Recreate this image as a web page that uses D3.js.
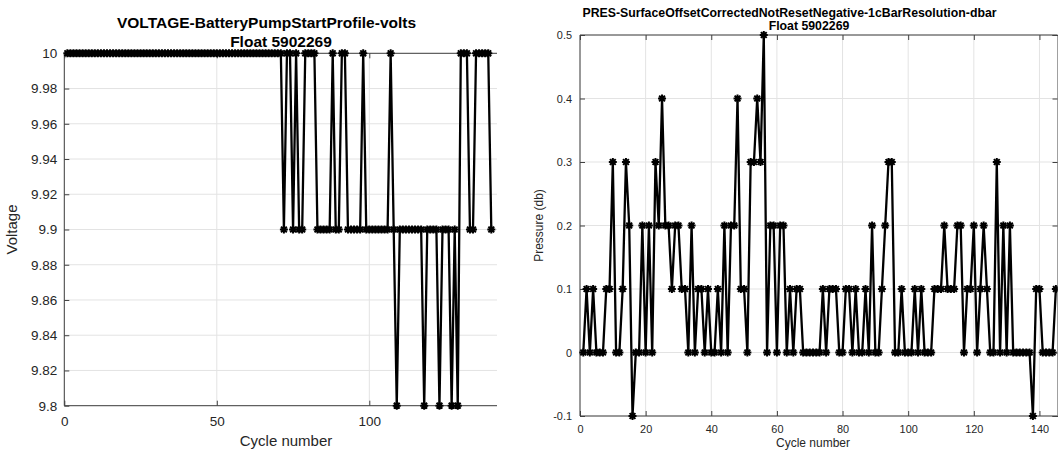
<!DOCTYPE html>
<html>
<head>
<meta charset="utf-8">
<script src="https://cdn.jsdelivr.net/npm/d3@7"></script>
<style>
  html, body { margin: 0; padding: 0; background: #ffffff; }
  svg { display: block; }
  text { font-family: "Liberation Sans", Arial, Helvetica, sans-serif; }
</style>
</head>
<body>
<svg id="fig" width="1058" height="455"></svg>
<script>
// ---- data -------------------------------------------------------------
// Battery voltage at pump start, one value per profile cycle (first cycle = 1)
const voltageFirstCycle = 1;
const voltage = [
  10, 10, 10, 10, 10, 10, 10, 10, 10, 10,
  10, 10, 10, 10, 10, 10, 10, 10, 10, 10,
  10, 10, 10, 10, 10, 10, 10, 10, 10, 10,
  10, 10, 10, 10, 10, 10, 10, 10, 10, 10,
  10, 10, 10, 10, 10, 10, 10, 10, 10, 10,
  10, 10, 10, 10, 10, 10, 10, 10, 10, 10,
  10, 10, 10, 10, 10, 10, 10, 10, 10, 10,
  10, 9.9, 10, 10, 9.9, 10, 9.9, 9.9, 10, 10,
  10, 10, 9.9, 9.9, 9.9, 9.9, 9.9, 10, 9.9, 9.9,
  10, 10, 9.9, 9.9, 9.9, 9.9, 9.9, 10, 9.9, 9.9,
  9.9, 9.9, 9.9, 9.9, 9.9, 9.9, 10, 9.9, 9.8, 9.9,
  9.9, 9.9, 9.9, 9.9, 9.9, 9.9, 9.9, 9.8, 9.9, 9.9,
  9.9, 9.9, 9.8, 9.9, 9.9, 9.9, 9.8, 9.9, 9.8, 10,
  10, 10, 9.9, 9.9, 10, 10, 10, 10, 10, 9.9
];

// Surface pressure offset (dbar), one value per profile cycle (first cycle = 1)
const pressureFirstCycle = 1;
const pressure = [
  0, 0.1, 0, 0.1, 0, 0, 0, 0.1, 0.1, 0.3,
  0, 0, 0.1, 0.3, 0.2, -0.1, 0, 0, 0.2, 0,
  0.2, 0, 0.3, 0.2, 0.4, 0.2, 0.2, 0.1, 0.2, 0.2,
  0.1, 0.1, 0, 0.2, 0, 0.1, 0.1, 0, 0.1, 0,
  0, 0.1, 0, 0.2, 0, 0.2, 0.2, 0.4, 0.1, 0.1,
  0, 0.3, 0.3, 0.4, 0.3, 0.5, 0, 0.2, 0.2, 0,
  0.2, 0.2, 0, 0.1, 0, 0.1, 0.1, 0, 0, 0,
  0, 0, 0, 0.1, 0, 0.1, 0.1, 0.1, 0, 0,
  0.1, 0.1, 0, 0.1, 0, 0, 0.1, 0, 0.2, 0,
  0, 0.1, 0.2, 0.3, 0.3, 0, 0, 0.1, 0, 0,
  0, 0.1, 0, 0.1, 0, 0, 0, 0.1, 0.1, 0.1,
  0.2, 0.1, 0.1, 0.1, 0.2, 0.2, 0, 0.1, 0.1, 0.2,
  0, 0.1, 0.2, 0.1, 0, 0, 0.3, 0, 0.2, 0,
  0.2, 0, 0, 0, 0, 0, 0, -0.1, 0.1, 0.1,
  0, 0, 0, 0, 0.1
];

// axis limits and tick values
const cycleLimits = [0, 145.5];
const voltageLimits = [9.8, 10];
const pressureLimits = [-0.1, 0.5];
const voltageCycleTicks = [0, 50, 100];
const voltageTicks = [9.8, 9.82, 9.84, 9.86, 9.88, 9.9, 9.92, 9.94, 9.96, 9.98, 10];
const pressureCycleTicks = [0, 20, 40, 60, 80, 100, 120, 140];
const pressureTicks = [-0.1, 0, 0.1, 0.2, 0.3, 0.4, 0.5];

// ---- drawing ----------------------------------------------------------
const svg = d3.select("#fig");
svg.append("rect").attr("width", 1058).attr("height", 455).attr("fill", "#fff");

const AXIS = "#404040", GRID = "#e3e3e3", LABEL = "#262626";

// star-shaped marker, centred on the origin
const marker = "M-4,0L4,0M0,-4L0,4M-2.9,-2.9L2.9,2.9M-2.9,2.9L2.9,-2.9";

function panel(opt) {
  const g = svg.append("g");
  const x = d3.scaleLinear().domain(cycleLimits).range([opt.left, opt.right]);
  const y = d3.scaleLinear().domain(opt.yLimits).range([opt.bottom, opt.top]);
  const clipRight = Math.min(opt.right, opt.visibleRight);

  const clipId = "clip-" + opt.id;
  svg.append("clipPath").attr("id", clipId)
    .append("rect")
    .attr("x", opt.left - 6).attr("y", opt.top - 6)
    .attr("width", clipRight - opt.left + 6)
    .attr("height", opt.bottom - opt.top + 12);

  // grid
  const grid = g.append("g").attr("clip-path", `url(#${clipId})`);
  grid.selectAll("line.gy").data(opt.yTicks).join("line")
    .attr("x1", opt.left).attr("x2", clipRight)
    .attr("y1", d => y(d)).attr("y2", d => y(d))
    .attr("stroke", GRID).attr("stroke-width", 1);
  grid.selectAll("line.gx").data(opt.xTicks).join("line")
    .attr("x1", d => x(d)).attr("x2", d => x(d))
    .attr("y1", opt.top).attr("y2", opt.bottom)
    .attr("stroke", GRID).attr("stroke-width", 1);

  // axes with inward ticks
  const axB = d3.axisBottom(x).tickValues(opt.xTicks).tickSize(-5).tickPadding(opt.xPad)
    .tickFormat(d3.format("d"));
  const axT = d3.axisTop(x).tickValues(opt.xTicks).tickSize(-5).tickFormat("");
  const axL = d3.axisLeft(y).tickValues(opt.yTicks).tickSize(-5).tickPadding(opt.yPad)
    .tickFormat(d => String(+d.toFixed(2)));

  const gb = g.append("g").attr("transform", `translate(0,${opt.bottom})`).call(axB);
  const gt = g.append("g").attr("transform", `translate(0,${opt.top})`).call(axT);
  const gl = g.append("g").attr("transform", `translate(${opt.left},0)`).call(axL);
  const axes = [gb, gt, gl];
  if (opt.right <= opt.visibleRight) {
    const axR = d3.axisRight(y).tickValues(opt.yTicks).tickSize(-5).tickFormat("");
    axes.push(g.append("g").attr("transform", `translate(${opt.right},0)`).call(axR));
  }
  axes.forEach(a => {
    a.select(".domain").attr("stroke", AXIS).attr("stroke-width", 1);
    a.selectAll(".tick line").attr("stroke", AXIS).attr("stroke-width", 1);
    a.selectAll(".tick text").attr("fill", LABEL).attr("font-size", opt.tickFont);
  });
  // trim the frame at the visible edge
  [gb, gt].forEach(a => a.select(".domain")
    .attr("d", `M${opt.left},0H${clipRight}`));
  gb.selectAll(".tick").filter(d => x(d) > clipRight).remove();
  gt.selectAll(".tick").filter(d => x(d) > clipRight).remove();
  gl.select(".domain").attr("d", `M0,${opt.top}V${opt.bottom}`);

  // series
  const pts = opt.values.map((v, i) => ({ c: opt.firstCycle + i, v }));
  const data = g.append("g").attr("clip-path", `url(#${clipId})`);
  data.append("path")
    .datum(pts)
    .attr("fill", "none").attr("stroke", "#000").attr("stroke-width", 2.3)
    .attr("stroke-linejoin", "round")
    .attr("d", d3.line().x(d => x(d.c)).y(d => y(d.v)));
  data.selectAll("path.m").data(pts).join("path")
    .attr("class", "m")
    .attr("d", marker)
    .attr("transform", d => `translate(${x(d.c)},${y(d.v)})`)
    .attr("stroke", "#000").attr("stroke-width", 2).attr("fill", "none");
  data.selectAll("circle.m").data(pts).join("circle")
    .attr("class", "m")
    .attr("cx", d => x(d.c)).attr("cy", d => y(d.v)).attr("r", 2.5).attr("fill", "#000");

  // labels
  svg.append("text").text("Cycle number")
    .attr("x", opt.xLabel[0]).attr("y", opt.xLabel[1])
    .attr("text-anchor", "middle").attr("font-size", opt.labelFont).attr("fill", LABEL);
  svg.append("text").text(opt.yLabelText)
    .attr("transform", `translate(${opt.yLabel[0]},${opt.yLabel[1]}) rotate(-90)`)
    .attr("text-anchor", "middle").attr("font-size", opt.labelFont).attr("fill", LABEL);
  opt.title.forEach(t => svg.append("text").text(t.text)
    .attr("x", t.x).attr("y", t.y).attr("text-anchor", "middle")
    .attr("font-size", opt.titleFont).attr("font-weight", "bold").attr("fill", "#000"));
}

panel({
  id: "volt",
  left: 64.3, right: 64.3 + 3.05 * 145.5, visibleRight: 497,
  top: 53.3, bottom: 405.7,
  yLimits: voltageLimits, xTicks: voltageCycleTicks, yTicks: voltageTicks,
  values: voltage, firstCycle: voltageFirstCycle,
  tickFont: 13.5, labelFont: 15, titleFont: 15.5, xPad: 11, yPad: 7,
  xLabel: [286, 446], yLabel: [17, 229.5], yLabelText: "Voltage",
  title: [
    { text: "VOLTAGE-BatteryPumpStartProfile-volts", x: 266.5, y: 28 },
    { text: "Float 5902269", x: 281, y: 47 }
  ]
});

panel({
  id: "pres",
  left: 580, right: 1057.5, visibleRight: 1058,
  top: 35, bottom: 416,
  yLimits: pressureLimits, xTicks: pressureCycleTicks, yTicks: pressureTicks,
  values: pressure, firstCycle: pressureFirstCycle,
  tickFont: 10.9, labelFont: 12, titleFont: 12.3, xPad: 9, yPad: 8,
  xLabel: [813, 447], yLabel: [543, 225.5], yLabelText: "Pressure (db)",
  title: [
    { text: "PRES-SurfaceOffsetCorrectedNotResetNegative-1cBarResolution-dbar", x: 789.5, y: 17 },
    { text: "Float 5902269", x: 809, y: 29.5 }
  ]
});
</script>
</body>
</html>
